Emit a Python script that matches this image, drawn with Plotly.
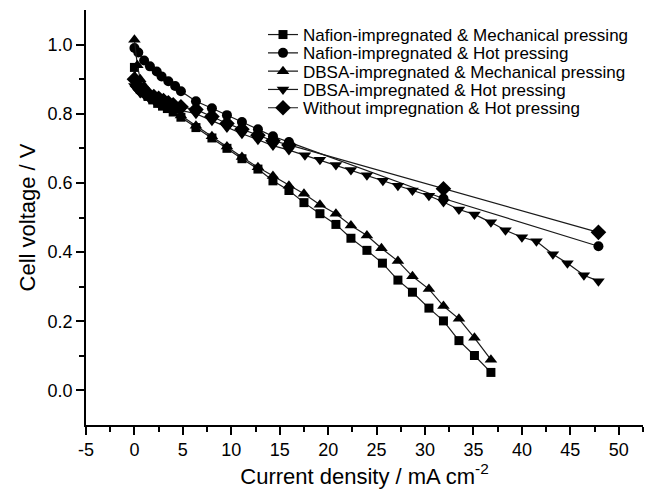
import plotly.graph_objects as go

# Polarisation curves: current density (mA cm^-2) vs cell voltage (V)
nafion_mech_j = [0, 0.3, 0.6, 1.0, 1.4, 1.9, 2.4, 2.9, 3.4, 4.0, 4.8, 6.35, 8.0, 9.55, 11.1,
                 12.75, 14.3, 15.95, 17.5, 19.15, 20.8, 22.35, 24.0, 25.6, 27.2, 28.7, 30.4,
                 31.9, 33.5, 35.1, 36.8]
nafion_mech_v = [0.934, 0.89, 0.87, 0.86, 0.85, 0.84, 0.83, 0.822, 0.815, 0.805, 0.79, 0.76,
                 0.73, 0.70, 0.67, 0.64, 0.606, 0.578, 0.543, 0.511, 0.48, 0.44, 0.405, 0.368,
                 0.319, 0.284, 0.238, 0.201, 0.144, 0.101, 0.052]

nafion_hot_j = [0, 0.4, 1.0, 1.6, 2.3, 2.8, 3.5, 4.2, 4.8, 6.35, 8.0, 9.55, 11.1, 12.75, 14.3,
                15.95, 31.9, 47.9]
nafion_hot_v = [0.99, 0.977, 0.954, 0.937, 0.922, 0.908, 0.894, 0.88, 0.865, 0.836, 0.816,
                0.796, 0.776, 0.755, 0.735, 0.718, 0.555, 0.417]

dbsa_mech_j = [0, 0.3, 0.6, 1.0, 1.4, 1.9, 2.4, 2.9, 3.4, 4.0, 4.8, 6.35, 8.0, 9.55, 11.1,
               12.75, 14.3, 15.95, 17.5, 19.15, 20.8, 22.35, 24.0, 25.5, 27.2, 28.7, 30.4,
               31.9, 33.5, 35.1, 36.8]
dbsa_mech_v = [1.014, 0.94, 0.90, 0.88, 0.865, 0.85, 0.84, 0.83, 0.82, 0.81, 0.795, 0.765,
               0.735, 0.705, 0.675, 0.645, 0.62, 0.592, 0.569, 0.537, 0.511, 0.477, 0.448,
               0.411, 0.374, 0.33, 0.293, 0.244, 0.207, 0.152, 0.089]

dbsa_hot_j = [0, 0.3, 0.6, 1.0, 1.5, 2.0, 2.5, 3.0, 3.5, 4.0, 4.8, 6.35, 8.0, 9.55, 11.1,
              12.75, 14.3, 15.95, 17.6, 19.15, 20.8, 22.35, 24.0, 25.65, 27.2, 28.7, 30.4,
              31.9, 33.5, 35.1, 36.8, 38.3, 40.0, 41.5, 43.2, 44.7, 46.4, 47.9]
dbsa_hot_v = [0.88, 0.87, 0.86, 0.855, 0.845, 0.84, 0.83, 0.825, 0.82, 0.815, 0.81, 0.80,
              0.78, 0.76, 0.742, 0.725, 0.708, 0.695, 0.68, 0.667, 0.652, 0.637, 0.622, 0.606,
              0.592, 0.578, 0.563, 0.545, 0.523, 0.509, 0.486, 0.463, 0.443, 0.431, 0.394,
              0.368, 0.333, 0.316]

none_hot_j = [0, 0.3, 0.6, 1.0, 1.5, 2.0, 2.5, 3.0, 3.5, 4.0, 4.8, 6.35, 8.0, 9.55, 11.1,
              12.75, 14.3, 15.95, 31.9, 47.9]
none_hot_v = [0.90, 0.88, 0.87, 0.865, 0.855, 0.85, 0.845, 0.838, 0.832, 0.826, 0.82, 0.812,
              0.792, 0.772, 0.755, 0.738, 0.722, 0.71, 0.583, 0.457]

series_names = [
    "Nafion-impregnated & Mechanical pressing",
    "Nafion-impregnated & Hot pressing",
    "DBSA-impregnated & Mechanical pressing",
    "DBSA-impregnated & Hot pressing",
    "Without impregnation & Hot pressing",
]
series_j = [nafion_mech_j, nafion_hot_j, dbsa_mech_j, dbsa_hot_j, none_hot_j]
series_v = [nafion_mech_v, nafion_hot_v, dbsa_mech_v, dbsa_hot_v, none_hot_v]
symbols = ["square", "circle", "triangle-up", "triangle-down", "diamond"]
marker_sizes = [9, 10, 11, 11, 12]

x_ticks = list(range(-5, 55, 5))
y_ticks = [0.0, 0.2, 0.4, 0.6, 0.8, 1.0]

W, H = 653, 493
M_L, M_R, M_T, M_B = 86, 10, 10, 68
plot_h = H - M_T - M_B
plot_w = W - M_L - M_R

font_family = "Liberation Sans, Arial, sans-serif"

fig = go.Figure()
legend_ids = ["legend", "legend2", "legend3", "legend4", "legend5"]
for i, name in enumerate(series_names):
    fig.add_trace(go.Scatter(
        x=series_j[i], y=series_v[i], mode="lines+markers", name=name,
        legend=legend_ids[i],
        line=dict(color="#1a1a1a", width=1.2),
        marker=dict(symbol=symbols[i], size=marker_sizes[i], color="black",
                    line=dict(width=0)),
    ))

# one single-entry legend per series, stacked with tight row spacing
legend_left_px = 263
row_top_px = 35.0
row_step_px = 18.3
legends = {}
for i, lid in enumerate(legend_ids):
    cy = row_top_px + i * row_step_px
    legends[lid] = dict(
        x=(legend_left_px - M_L) / plot_w,
        y=(H - M_B - cy) / plot_h,
        xanchor="left", yanchor="middle",
        bgcolor="rgba(0,0,0,0)", borderwidth=0,
        font=dict(size=17, family=font_family, color="black"),
        itemwidth=30,
    )

fig.update_layout(
    width=W, height=H,
    margin=dict(l=M_L, r=M_R, t=M_T, b=M_B),
    paper_bgcolor="white", plot_bgcolor="white",
    font=dict(family=font_family, color="black"),
    showlegend=True,
    **legends,
)
fig.update_xaxes(
    range=[-5, 52.5], tickvals=x_ticks, ticktext=[str(t) for t in x_ticks],
    showgrid=False, zeroline=False, showline=True, linecolor="black", linewidth=1.5,
    ticks="outside", ticklen=8, tickwidth=1.5, tickcolor="black",
    minor=dict(tickvals=[t + 2.5 for t in x_ticks], ticks="outside", ticklen=5,
               tickwidth=1.5, tickcolor="black"),
    tickfont=dict(size=18),
    automargin=False,
    title=dict(text="Current density / mA cm<sup>-2</sup>", font=dict(size=22), standoff=6),
)
fig.update_yaxes(
    range=[-0.1, 1.1], tickvals=y_ticks, ticktext=[f"{t:.1f}" for t in y_ticks],
    showgrid=False, zeroline=False, showline=True, linecolor="black", linewidth=1.5,
    ticks="outside", ticklen=8, tickwidth=1.5, tickcolor="black",
    minor=dict(tickvals=[0.1, 0.3, 0.5, 0.7, 0.9], ticks="outside", ticklen=5,
               tickwidth=1.5, tickcolor="black"),
    tickfont=dict(size=18),
    automargin=False,
    title=dict(text="Cell voltage / V", font=dict(size=22), standoff=6),
)

fig.write_html("out.html")
